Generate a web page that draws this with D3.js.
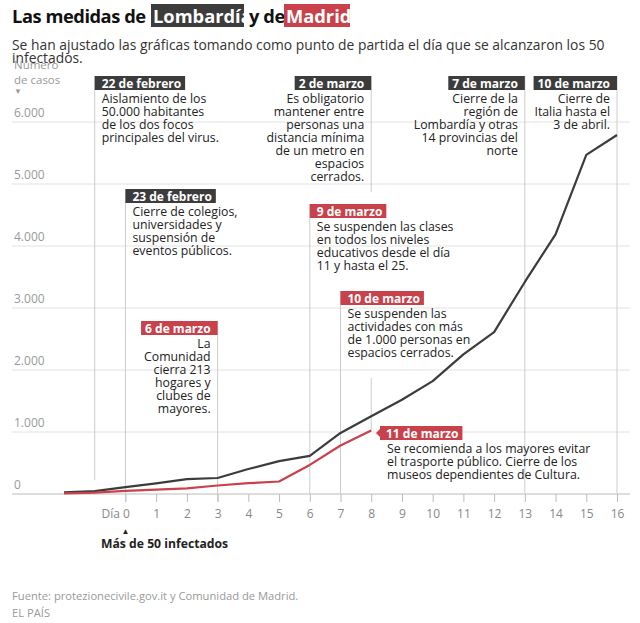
<!DOCTYPE html>
<html><head><meta charset="utf-8">
<script src="https://cdn.jsdelivr.net/npm/d3@7/dist/d3.min.js"></script>
<style>
html,body{margin:0;padding:0;background:#fff;}
svg{display:block;font-family:"Open Sans","Noto Sans",sans-serif;}
</style></head><body>
<div id="chart"></div>
<script>
// ---- DATA ----
const days = [-2,-1,0,1,2,3,4,5,6,7,8,9,10,11,12,13,14,15,16];
const lombardia = [25,45,110,172,240,258,403,531,615,984,1254,1520,1820,2251,2612,3420,4189,5469,5791];
const madridDays = [-2,-1,0,1,2,3,4,5,6,7,8];
const madrid = [10,22,50,70,90,137,174,202,469,782,1024];
const yTicks = [0,1000,2000,3000,4000,5000,6000];
const xTicks = [0,1,2,3,4,5,6,7,8,9,10,11,12,13,14,15,16];
const eventDays = [-1,0,8,13,16,3,6,7,8];
const eventRegion = ["L","L","L","L","L","M","M","M","M"];
const eventDates = ["22 de febrero","23 de febrero","2 de marzo","7 de marzo","10 de marzo","6 de marzo","9 de marzo","10 de marzo","11 de marzo"];
const eventTexts = [
  ["Aislamiento de los","50.000 habitantes","de los dos focos","principales del virus."],
  ["Cierre de colegios,","universidades y","suspensión de","eventos públicos."],
  ["Es obligatorio","mantener entre","personas una","distancia mínima","de un metro en","espacios","cerrados."],
  ["Cierre de la","región de","Lombardía y otras","14 provincias del","norte"],
  ["Cierre de","Italia hasta el","3 de abril."],
  ["La","Comunidad","cierra 213","hogares y","clubes de","mayores."],
  ["Se suspenden las clases","en todos los niveles","educativos desde el día","11 y hasta el 25."],
  ["Se suspenden las","actividades con más","de 1.000 personas en","espacios cerrados."],
  ["Se recomienda a los mayores evitar","el trasporte público. Cierre de los","museos dependientes de Cultura."]
];

// ---- LAYOUT ----
const W = 640, H = 623;
const DARK = "#3c3c3c", RED = "#c9414b";
const x = d3.scaleLinear().domain([-2,16]).range([64,617]);
const y = d3.scaleLinear().domain([0,6000]).range([494,122]);
const evLayout = [
  {side:"r", top:76, bottom:480},
  {side:"r", top:189, bottom:502},
  {side:"l", top:76, bottom:192},
  {side:"l", top:76, bottom:494},
  {side:"l", top:76, bottom:494},
  {side:"l", top:321, bottom:502},
  {side:"r", top:204, bottom:494},
  {side:"r", top:291, bottom:494},
  {side:"p", top:378, boxTop:426, boxX:380}
];

const svg = d3.select("#chart").append("svg").attr("width",W).attr("height",H);

// title
const t = svg.append("g");
const defs = svg.append("defs");
defs.append("clipPath").attr("id","clipL").append("rect").attr("x",151).attr("y",4).attr("width",93).attr("height",23);
defs.append("clipPath").attr("id","clipM").append("rect").attr("x",284).attr("y",4).attr("width",66).attr("height",23);
const TFS = 18.3;
t.append("text").attr("x",12).attr("y",23).attr("font-size",TFS).attr("font-weight",700).attr("letter-spacing",-0.45).attr("fill","#111").text("Las medidas de");
t.append("rect").attr("x",151).attr("y",4).attr("width",93).attr("height",23).attr("fill",DARK);
t.append("text").attr("x",153).attr("y",23).attr("font-size",TFS).attr("font-weight",700).attr("fill","#fff").attr("clip-path","url(#clipL)").text("Lombardía");
t.append("text").attr("x",249).attr("y",23).attr("font-size",TFS).attr("font-weight",700).attr("letter-spacing",-0.4).attr("fill","#111").text("y de");
t.append("rect").attr("x",284).attr("y",4).attr("width",66).attr("height",23).attr("fill",RED);
t.append("text").attr("x",286).attr("y",23).attr("font-size",TFS).attr("font-weight",700).attr("fill","#fff").attr("clip-path","url(#clipM)").text("Madrid");

svg.append("text").attr("x",12).attr("y",50).attr("font-size",13.85).attr("fill","#333").text("Se han ajustado las gráficas tomando como punto de partida el día que se alcanzaron los 50");
svg.append("text").attr("x",12).attr("y",63).attr("font-size",13.85).attr("fill","#333").text("infectados.");

svg.append("text").attr("x",14).attr("y",69).attr("font-size",11.5).attr("fill","#999").text("Número");
svg.append("text").attr("x",14).attr("y",84).attr("font-size",11.5).attr("fill","#999").text("de casos");
svg.append("text").attr("x",14).attr("y",94).attr("font-size",8).attr("fill","#999").text("▼");

// grid
const grid = svg.append("g");
grid.selectAll("line").data(yTicks).join("line")
  .attr("x1",12).attr("x2",630).attr("y1",d=>y(d)).attr("y2",d=>y(d))
  .attr("stroke",d=>d===0?"#bbb":"#e2e2e2").attr("stroke-width",1);
grid.selectAll("text").data(yTicks).join("text")
  .attr("x",14).attr("y",d=>y(d)-5).attr("font-size",12).attr("fill","#999")
  .text(d=>d3.format(",")(d).replace(/,/g,"."));

// x axis
const xg = svg.append("g").attr("transform",`translate(0,${y(0)})`)
  .call(d3.axisBottom(x).tickValues(xTicks).tickSize(8).tickFormat(d=>d===0?"Día 0":d));
xg.select(".domain").remove();
xg.selectAll(".tick line").attr("stroke","#bbb");
xg.selectAll(".tick text").attr("font-size",12).attr("fill","#888").attr("font-family","'Open Sans',sans-serif").attr("dy","1.05em");
xg.selectAll(".tick").filter(d=>d===0).select("text").attr("text-anchor","end").attr("dx","4");
svg.append("text").attr("x",x(0)).attr("y",534).attr("text-anchor","middle").attr("font-size",8).attr("fill","#222").text("▲");
svg.append("text").attr("x",101).attr("y",548).attr("font-size",12.2).attr("font-weight",700).attr("fill","#222").text("Más de 50 infectados");

// event lines
const ev = svg.append("g");
eventDays.forEach((d,i)=>{
  const L = evLayout[i];
  const lx = x(d);
  const yEnd = L.side==="p" ? y(madrid[madridDays.indexOf(d)]) : L.bottom;
  ev.append("line").attr("x1",lx).attr("x2",lx).attr("y1",L.top).attr("y2",yEnd).attr("stroke","#ccc");
});

// data lines
const line = d3.line().x(d=>x(d[0])).y(d=>y(d[1]));
svg.append("path").datum(days.map((d,i)=>[d,lombardia[i]])).attr("d",line)
  .attr("fill","none").attr("stroke",DARK).attr("stroke-width",2.2).attr("stroke-linejoin","round");
svg.append("path").datum(madridDays.map((d,i)=>[d,madrid[i]])).attr("d",line)
  .attr("fill","none").attr("stroke",RED).attr("stroke-width",2.2).attr("stroke-linejoin","round");

// event labels
const lab2 = svg.append("g");
eventDays.forEach((d,i)=>{
  const L = evLayout[i];
  const col = eventRegion[i]==="L"?DARK:RED;
  const lx = x(d);
  const g = lab2.append("g");
  let boxTop = L.side==="p"?L.boxTop:L.top;
  const lab = g.append("text").attr("font-size",12).attr("font-weight",700).attr("fill","#fff").text(eventDates[i]);
  const tw = lab.node().getComputedTextLength();
  let bx, bw = tw+11, tx, anchor;
  if(L.side==="r"){ bx = lx; tx = lx+7; anchor="start"; }
  else if(L.side==="l"){ bx = lx-bw; tx = lx-7; anchor="end"; }
  else { bx = L.boxX; tx = L.boxX+6; anchor="start"; bw = tw+10; }
  g.insert("rect","text").attr("x",bx).attr("y",boxTop).attr("width",bw).attr("height",14).attr("fill",col);
  if(L.side==="p"){
    g.insert("path","text").attr("d",`M${bx},${boxTop+3} L${bx-4},${boxTop+7} L${bx},${boxTop+11} Z`).attr("fill",col);
  }
  lab.attr("x",tx).attr("y",boxTop+11.5).attr("text-anchor",anchor);
  const bodyX = L.side==="p"? bx+7 : tx;
  g.append("text").attr("font-size",12.3).attr("fill","#222").attr("text-anchor",anchor)
    .selectAll("tspan").data(eventTexts[i]).join("tspan")
    .attr("x",bodyX).attr("y",(s,k)=>boxTop+27+k*13).text(s=>s);
});

// footer
svg.append("text").attr("x",12).attr("y",600).attr("font-size",11.2).attr("fill","#999").text("Fuente: protezionecivile.gov.it y Comunidad de Madrid.");
svg.append("text").attr("x",12).attr("y",617).attr("font-size",11.2).attr("fill","#999").text("EL PAÍS");
</script></body></html>
